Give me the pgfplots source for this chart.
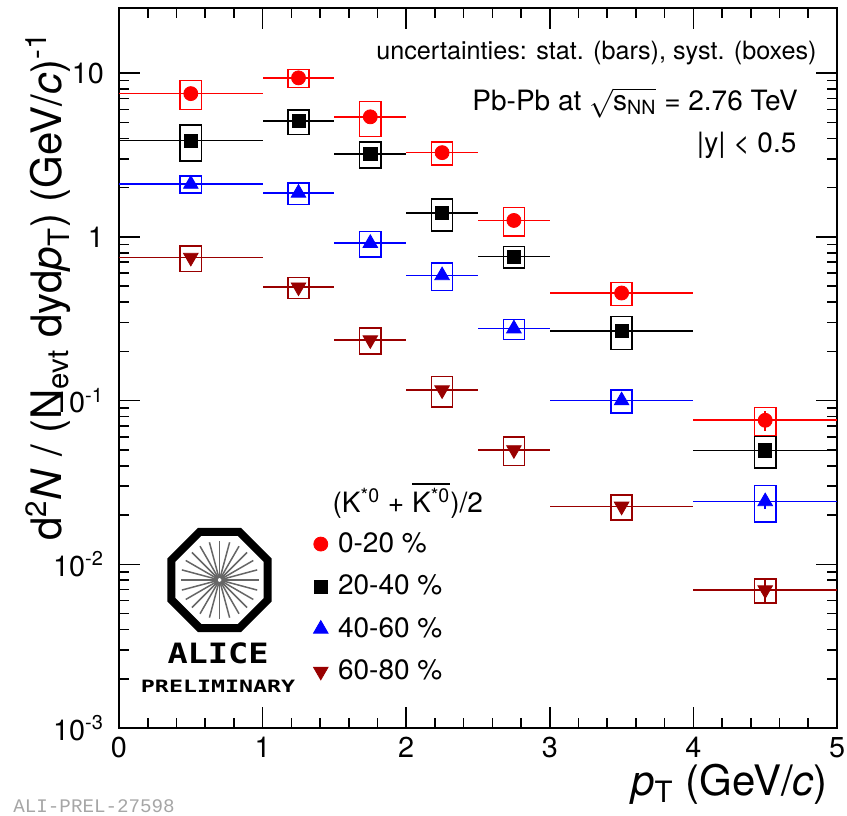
\documentclass[border=0pt]{standalone}
\usepackage{pgfplots}
\pgfplotsset{compat=1.18}
\usepackage{pgfplotstable}
\usepackage{amsmath}
\usepackage{fontspec}
\setmainfont{TeX Gyre Heros}
\newfontfamily\monofont{DejaVu Sans Mono}
\newfontfamily\courfont{Liberation Mono}
\definecolor{dred}{RGB}{153,0,0}

\pgfplotstableread{
x ex y stat sys
0.5 0.5 7.5 0.15 0.20
1.25 0.25 9.36 0.2 0.127
1.75 0.25 5.41 0.12 0.24
2.25 0.25 3.27 0.07 0.16
2.75 0.25 1.26 0.03 0.196
3.5 0.5 0.454 0.012 0.16
4.5 0.5 0.0758 0.011 0.196
}\tabA
\pgfplotstableread{
x ex y stat sys
0.5 0.5 3.87 0.08 0.25
1.25 0.25 5.09 0.15 0.17
1.75 0.25 3.22 0.06 0.18
2.25 0.25 1.395 0.03 0.22
2.75 0.25 0.758 0.015 0.15
3.5 0.5 0.266 0.006 0.23
4.5 0.5 0.0496 0.0045 0.22
}\tabB
\pgfplotstableread{
x ex y stat sys
0.5 0.5 2.10 0.04 0.12
1.25 0.25 1.855 0.04 0.15
1.75 0.25 0.915 0.02 0.175
2.25 0.25 0.581 0.012 0.19
2.75 0.25 0.275 0.006 0.14
3.5 0.5 0.100 0.003 0.16
4.5 0.5 0.0242 0.0025 0.25
}\tabC
\pgfplotstableread{
x ex y stat sys
0.5 0.5 0.748 0.015 0.18
1.25 0.25 0.493 0.01 0.145
1.75 0.25 0.2345 0.006 0.18
2.25 0.25 0.116 0.003 0.21
2.75 0.25 0.0500 0.0015 0.20
3.5 0.5 0.0226 0.0008 0.175
4.5 0.5 0.00697 0.0011 0.17
}\tabD

\pgfdeclareplotmark{nothing}{}
\pgfplotsset{
  sysbox/.style={forget plot, only marks, mark=nothing, scatter,
    visualization depends on={ln(1+\thisrow{sys})*35.55 \as \syshi},
    visualization depends on={ln(1-\thisrow{sys})*35.55 \as \syslo},
    scatter/@pre marker code/.code={\draw[#1, line width=0.75pt] (-5.3pt,\syslo pt) rectangle (5.3pt,\syshi pt);},
    scatter/@post marker code/.code={}},
  stat/.style={only marks, color=#1, mark options={fill=#1, draw=#1},
    error bars/x dir=both, error bars/x explicit, error bars/y dir=both, error bars/y explicit,
    error bars/error mark=none, error bars/error bar style={line width=0.8pt, color=#1}}
}

\begin{document}
\begin{tikzpicture}
\begin{axis}[
  scale only axis, width=359pt, height=360pt,
  ymode=log, xmin=0, xmax=5, ymin=0.001, ymax=25,
  xtick={0,1,2,3,4,5}, xticklabels={0,1,2,3,4,5},
  minor x tick num=4,
  ytick={0.001,0.01,0.1,1,10},
  yticklabels={10\textsuperscript{-3},10\textsuperscript{-2},10\textsuperscript{-1},1,10},
  tick align=inside, major tick length=10.5pt, minor tick length=5pt,
  axis line style={line width=0.9pt}, every tick/.style={line width=0.8pt, black},
  tick label style={font=\fontsize{14.4}{17}\selectfont},
  yticklabel style={xshift=-4pt},
  xticklabel style={yshift=-1pt},
  xlabel={\textit{p}\textsubscript{T} (GeV/\textit{c})},
  xlabel style={at={(axis description cs:0.9972,-0.0931)}, anchor=base east, font=\fontsize{21}{24}\selectfont},
  ylabel={d\textsuperscript{2}\textit{N} / (N\textsubscript{evt} dyd\textit{p}\textsubscript{T}) (GeV/\textit{c})\textsuperscript{-1}},
  ylabel style={at={(axis description cs:-0.0794,0.976)}, anchor=base east, font=\fontsize{21}{24}\selectfont},
  legend style={at={(axis description cs:0.262,0.283)}, anchor=north west, draw=none, fill=none,
    font=\fontsize{14}{17}\selectfont, row sep=5.8pt, column sep=3pt},
  legend cell align=left,
  clip=false,
]
\addplot[sysbox=red] table[x=x,y=y] {\tabA};
\addplot[sysbox=black] table[x=x,y=y] {\tabB};
\addplot[sysbox=blue] table[x=x,y=y] {\tabC};
\addplot[sysbox=dred] table[x=x,y=y] {\tabD};
\addplot[stat=red, mark=*, mark size=3.5pt] table[x=x,y=y,x error=ex,y error=stat] {\tabA};
\addlegendentry{0-20 \%}
\addplot[stat=black, mark=square*, mark size=3.3pt] table[x=x,y=y,x error=ex,y error=stat] {\tabB};
\addlegendentry{20-40 \%}
\addplot[stat=blue, mark=triangle*, mark size=4.2pt] table[x=x,y=y,x error=ex,y error=stat] {\tabC};
\addlegendentry{40-60 \%}
\addplot[stat=dred, mark=triangle*, mark size=4.2pt, mark options={rotate=180}] table[x=x,y=y,x error=ex,y error=stat] {\tabD};
\addlegendentry{60-80 \%}

\node[anchor=base east, font=\fontsize{12.6}{15}\selectfont, inner sep=0pt] at (rel axis cs:0.972,0.928) {uncertainties: stat. (bars), syst. (boxes)};
\node[anchor=base east, font=\fontsize{14}{17}\selectfont, inner sep=0pt] at (rel axis cs:0.946,0.858) {Pb-Pb at $\sqrt{\text{s}_{\text{NN}}}$ = 2.76 TeV};
\node[anchor=base east, font=\fontsize{14}{17}\selectfont, inner sep=0pt] at (rel axis cs:0.944,0.799) {|y| < 0.5};
\node[anchor=base west, font=\fontsize{14}{17}\selectfont, inner sep=0pt] at (rel axis cs:0.297,0.299) {(K\textsuperscript{*0} + $\overline{\mbox{K\textsuperscript{*0}}}$)/2};
\coordinate (logo) at (rel axis cs:0.140,0.2056);
\coordinate (alice) at (rel axis cs:0.138,0.104);
\coordinate (prelim) at (rel axis cs:0.138,0.058);
\coordinate (SW) at (rel axis cs:0,0);
\coordinate (NE) at (rel axis cs:1,1);
\end{axis}
\begin{scope}[shift={(logo)}]
  \draw[line width=4pt, black] (22.5:26pt) -- (67.5:26pt) -- (112.5:26pt) -- (157.5:26pt) -- (202.5:26pt) -- (247.5:26pt) -- (292.5:26pt) -- (337.5:26pt) -- cycle;
  \foreach \a in {0,15,...,345} { \draw[gray!80!black, line width=0.75pt] (\a:1pt) -- (\a:19.5pt); }
\end{scope}
\node[font=\monofont\bfseries\fontsize{14}{16}\selectfont, xscale=1.2, inner sep=0pt] at (alice) {ALICE};
\node[font=\monofont\bfseries\fontsize{8.5}{10}\selectfont, xscale=1.37, inner sep=0pt] at (prelim) {PRELIMINARY};
\node[anchor=base west, inner sep=0pt, text=gray!70, font=\courfont\fontsize{9.6}{11}\selectfont] at ([xshift=-53pt,yshift=-42pt]SW) {ALI-PREL-27598};
\pgfresetboundingbox
\path ([xshift=-59.5pt,yshift=-43.5pt]SW) rectangle ([xshift=5pt,yshift=4pt]NE);
\end{tikzpicture}
\end{document}
